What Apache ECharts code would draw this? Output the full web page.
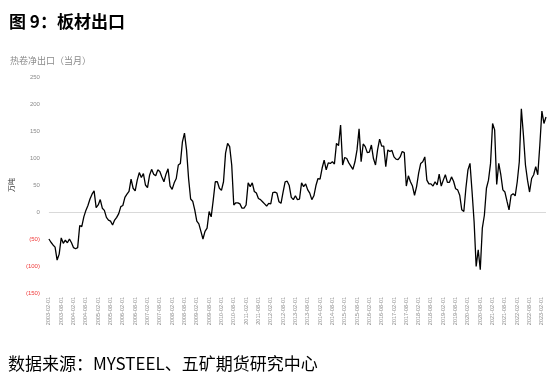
<!DOCTYPE html>
<html><head><meta charset="utf-8">
<script src="https://cdn.jsdelivr.net/npm/echarts@6/dist/echarts.min.js"></script>
<style>html,body{margin:0;padding:0;background:#fff}#c{width:559px;height:380px}</style>
</head><body><div id="c"></div>
<script>
// Monthly net export of hot-rolled coil (万吨), 2003-02 .. 2023-04
var startYear = 2003, startMonth = 2, monthCount = 243;
var yTicks = [-150, -100, -50, 0, 50, 100, 150, 200, 250];
var netExport = [
 -50,-56,-61,-65,-89,-78,-48,-58,-52,-57,-50,-57,-66,-68,-66,-25,-27,-9,3,12,
 24,33,39,8,13,23,7,3,-10,-15,-17,-24,-15,-10,-3,10,12,27,33,38,
 61,44,39,59,73,64,71,50,45,68,79,70,67,78,75,65,56,70,80,48,
 42,54,62,87,90,130,146,115,62,24,20,4,-17,-22,-36,-50,-36,-30,1,-9,
 22,56,56,44,40,56,109,127,121,87,13,17,17,15,7,7,13,54,47,54,
 38,35,25,23,19,15,11,16,15,36,37,35,19,16,37,56,57,49,27,23,
 30,23,24,54,47,52,41,35,23,30,49,62,61,81,96,78,91,90,93,89,
 127,123,161,87,101,99,91,85,79,93,115,154,93,126,121,110,111,124,99,87,
 115,135,122,122,84,115,112,114,102,98,97,102,112,110,48,67,56,48,31,47,
 72,90,93,102,59,52,52,48,56,50,70,48,59,69,55,55,65,57,43,41,
 31,4,1,44,78,90,38,-18,-101,-70,-107,-30,-6,44,59,90,164,152,51,90,
 69,41,37,20,4,31,34,30,56,93,191,143,87,59,37,62,69,84,69,124,
 187,164,176
];
var categories = [];
for (var i = 0; i < monthCount; i++) {
  var t = (startMonth - 1) + i;
  var y = startYear + Math.floor(t / 12), m = (t % 12) + 1;
  categories.push(y + '-' + (m < 10 ? '0' + m : m) + '-01');
}
var chart = echarts.init(document.getElementById('c'), null, {renderer: 'canvas'});
chart.setOption({
  animation: false,
  backgroundColor: '#fff',
  title: [
    {text: '图 9：板材出口', left: 4, top: 8,
     textStyle: {fontFamily: 'Noto Sans CJK SC', fontSize: 17, fontWeight: 'bold', color: '#000'}},
    {text: '热卷净出口（当月）', left: 5, top: 51,
     textStyle: {fontFamily: 'Noto Sans CJK SC', fontSize: 9, fontWeight: 'normal', color: '#8a8a8a'}},
    {text: '数据来源：MYSTEEL、五矿期货研究中心', left: 3, top: 350,
     textStyle: {fontFamily: 'Noto Sans CJK SC', fontSize: 17, fontWeight: 'normal', color: '#000'}}
  ],
  grid: {left: 44, right: 13, top: 77, bottom: 87, containLabel: false},
  xAxis: {
    type: 'category', data: categories, boundaryGap: false,
    axisLine: {show: false}, axisTick: {show: false}, splitLine: {show: false},
    axisLabel: {interval: 5, rotate: 90, fontSize: 5.5, color: '#8a8a8a', margin: 4,
                fontFamily: 'Liberation Sans'}
  },
  yAxis: {
    type: 'value', min: -150, max: 250, interval: 50,
    name: '万吨', nameLocation: 'middle', nameRotate: 90, nameGap: 26,
    nameTextStyle: {fontFamily: 'Noto Sans CJK SC', fontSize: 7, color: '#333'},
    axisLine: {show: false}, axisTick: {show: false}, splitLine: {show: false},
    axisLabel: {
      fontSize: 6, margin: 9, fontFamily: 'Liberation Sans',
      formatter: function (v) { return v < 0 ? '(' + (-v) + ')' : String(v); },
      color: function (v) { return Number(v) < 0 ? '#f03a3a' : '#8a8a8a'; }
    }
  },
  series: [{
    type: 'line', data: netExport, showSymbol: false, symbol: 'none',
    lineStyle: {color: '#000', width: 1.3}, z: 3,
    markLine: {
      silent: true, symbol: 'none', label: {show: false}, z: 1,
      lineStyle: {color: '#d9d9d9', width: 1, type: 'solid'},
      data: [{yAxis: 0}]
    }
  }]
});
</script></body></html>
